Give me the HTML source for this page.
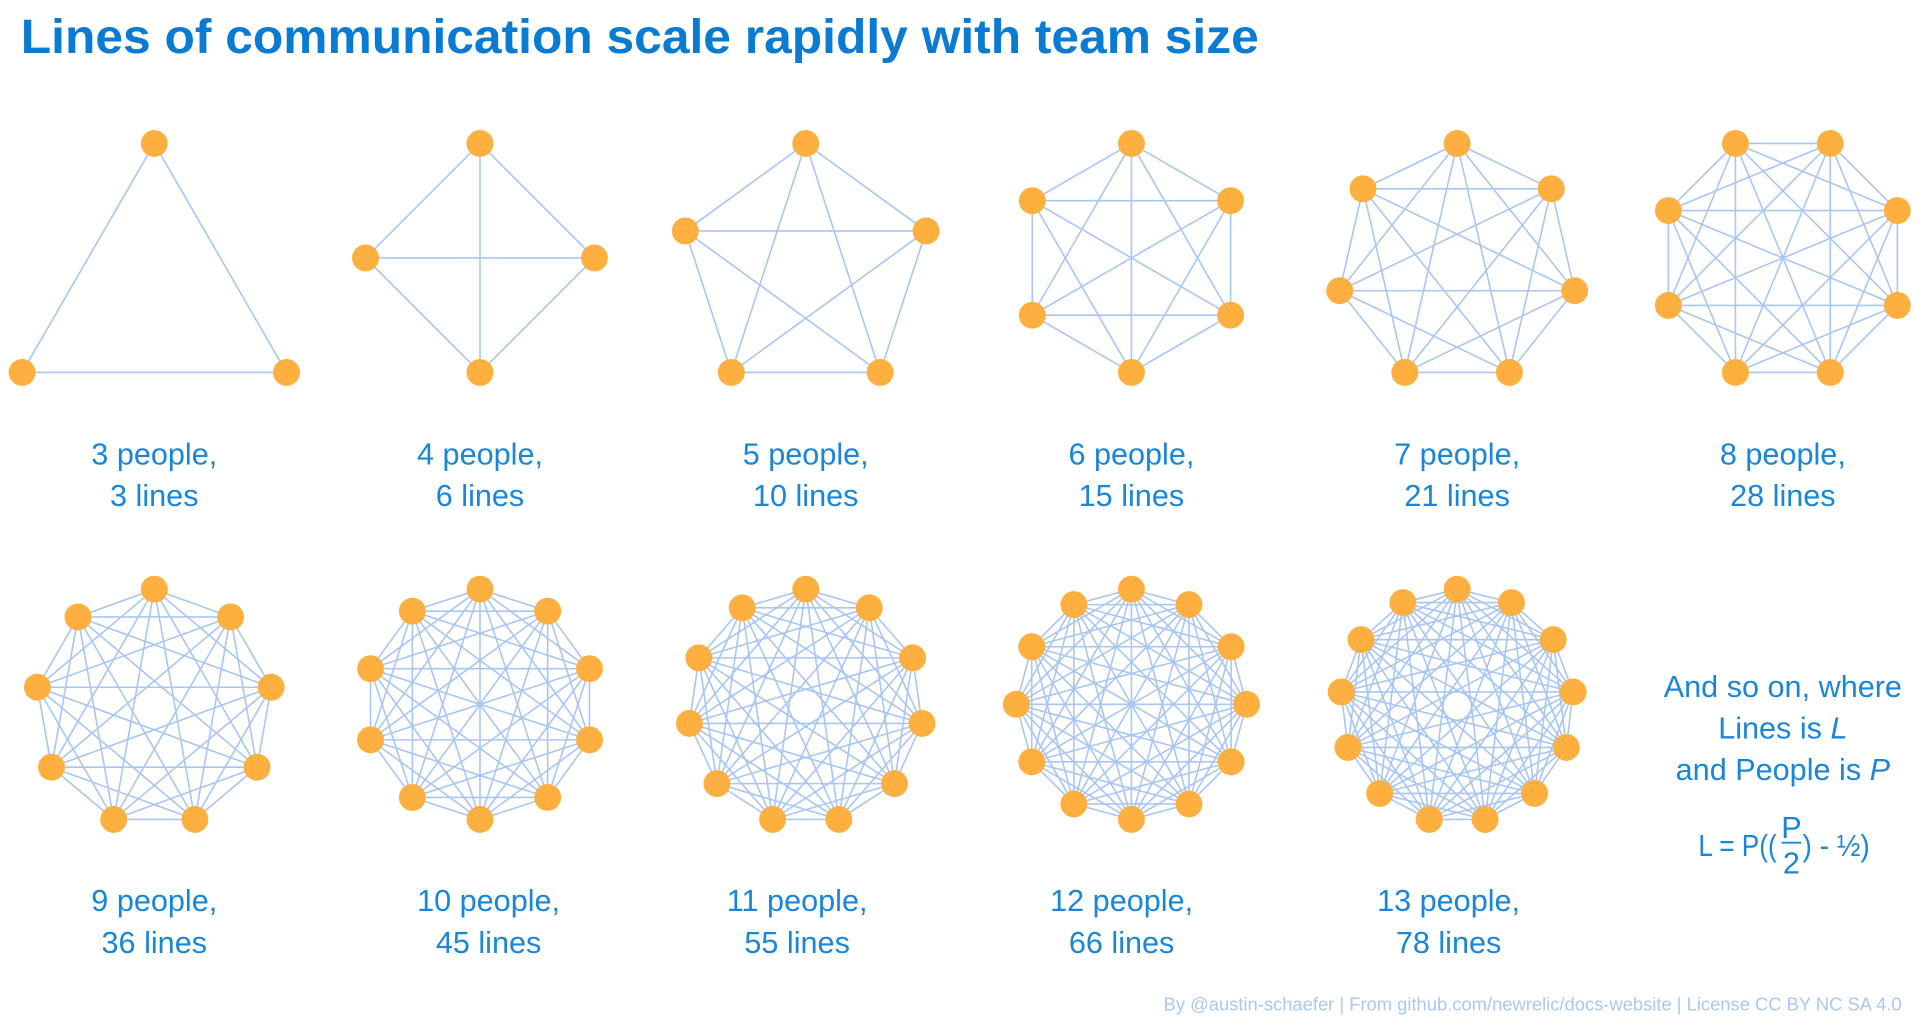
<!DOCTYPE html>
<html><head><meta charset="utf-8"><style>
html,body{margin:0;padding:0;background:#fff;}
svg{display:block;}
text{font-family:"Liberation Sans",sans-serif;fill:#1a86d8;}
</style></head><body>
<svg id="s" width="1920" height="1029" viewBox="0 0 1568 840" xmlns="http://www.w3.org/2000/svg">
<text x="17" y="43" font-size="39" font-weight="bold" fill="#0a7bd2" style="fill:#0a7bd2" textLength="1011" lengthAdjust="spacingAndGlyphs">Lines of communication scale rapidly with team size</text>
<g id="g"></g>
<g font-size="25" text-anchor="middle">
<text x="126" y="379">3 people,</text><text x="126" y="413">3 lines</text>
<text x="392" y="379">4 people,</text><text x="392" y="413">6 lines</text>
<text x="658" y="379">5 people,</text><text x="658" y="413">10 lines</text>
<text x="924" y="379">6 people,</text><text x="924" y="413">15 lines</text>
<text x="1190" y="379">7 people,</text><text x="1190" y="413">21 lines</text>
<text x="1456" y="379">8 people,</text><text x="1456" y="413">28 lines</text>
<text x="126" y="744">9 people,</text><text x="126" y="778">36 lines</text>
<text x="399" y="744">10 people,</text><text x="399" y="778">45 lines</text>
<text x="651" y="744">11 people,</text><text x="651" y="778">55 lines</text>
<text x="916" y="744">12 people,</text><text x="916" y="778">66 lines</text>
<text x="1183" y="744">13 people,</text><text x="1183" y="778">78 lines</text>
<text x="1456" y="569">And so on, where</text>
<text x="1456" y="603">Lines is <tspan font-style="italic">L</tspan></text>
<text x="1456" y="637">and People is <tspan font-style="italic">P</tspan></text>
</g>
<g font-size="25">
<text x="1387" y="699" textLength="64" lengthAdjust="spacingAndGlyphs">L = P((</text>
<text x="1463" y="684" text-anchor="middle">P</text>
<line x1="1455" y1="688" x2="1471" y2="688" stroke="#1a86d8" stroke-width="1.5"/>
<text x="1463" y="713" text-anchor="middle">2</text>
<text x="1472" y="699" textLength="55" lengthAdjust="spacingAndGlyphs">) - ½)</text>
</g>
<text x="1553" y="825" font-size="15" text-anchor="end" style="fill:#a9c8f2">By @austin-schaefer | From github.com/newrelic/docs-website | License CC BY NC SA 4.0</text>
</svg>
<script>
var g=document.getElementById('g');
var specs=[[3,126,117,304],[4,392,117,304],[5,658,117,304],[6,924,117,304],[7,1190,117,304],[8,1456,117,304],
[9,126,481,669],[10,392,481,669],[11,658,481,669],[12,924,481,669],[13,1190,481,669]];
var lines='',dots='';
specs.forEach(function(s){
 var n=s[0],cx=s[1],top=s[2],bot=s[3],off=(n==8)?Math.PI/8:0;
 var ys=[],i,a;
 for(i=0;i<n;i++){a=off+2*Math.PI*i/n;ys.push(-Math.cos(a));}
 var mn=Math.min.apply(null,ys),mx=Math.max.apply(null,ys);
 var R=(bot-top)/(mx-mn),cy=top-mn*R,p=[];
 for(i=0;i<n;i++){a=off+2*Math.PI*i/n;p.push([cx+R*Math.sin(a),cy-R*Math.cos(a)]);}
 for(i=0;i<n;i++)for(var j=i+1;j<n;j++)lines+='<line x1="'+p[i][0]+'" y1="'+p[i][1]+'" x2="'+p[j][0]+'" y2="'+p[j][1]+'"/>';
 p.forEach(function(q){dots+='<circle cx="'+q[0]+'" cy="'+q[1]+'" r="11"/>';});
});
g.innerHTML='<g stroke="#a8c6f4" stroke-width="1.3">'+lines+'</g><g fill="#fdb03f">'+dots+'</g>';
</script>
</body></html>
